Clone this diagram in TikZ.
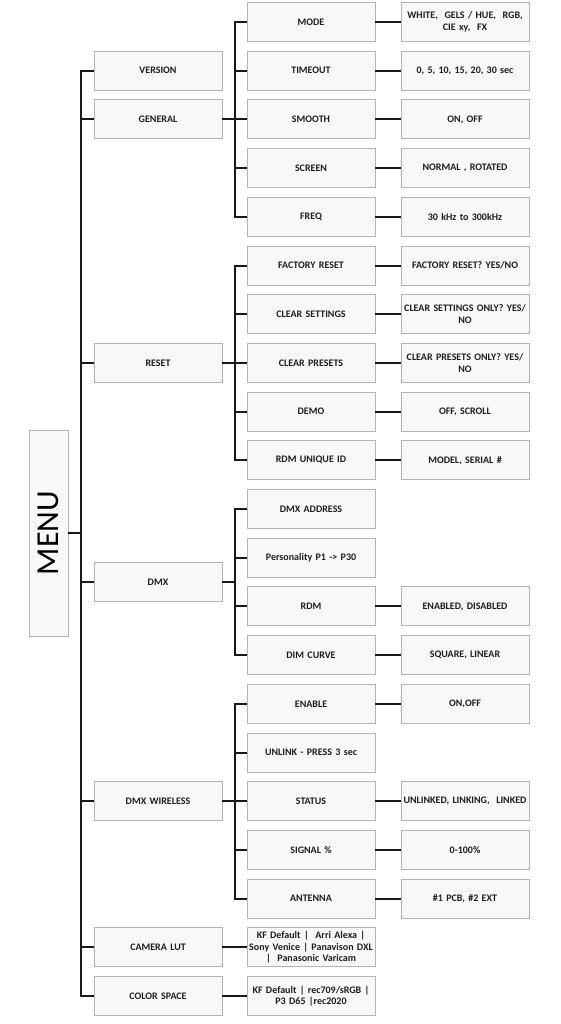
\documentclass[tikz,border=0pt]{standalone}
\usepackage{fontspec}
\setmainfont{Carlito}
\usepackage{xcolor}
\usetikzlibrary{positioning,calc}
\definecolor{boxline}{RGB}{180,180,180}
\definecolor{boxfill}{RGB}{248,248,248}
\definecolor{txtdark}{RGB}{30,30,30}
\tikzstyle{item} = [draw=boxline, fill=boxfill, line width=0.9pt, minimum width=128pt, minimum height=39pt, inner sep=0pt, align=center, text width=128pt, font=\bfseries\fontsize{10}{11.5}\selectfont, text=txtdark]
\tikzstyle{conn} = [line width=2pt, draw=black!90]

\begin{document}
\begin{tikzpicture}[x=1pt, y=-1pt]
\useasboundingbox (0,0) rectangle (560,1024);

% Root
\node[draw=boxline, fill=boxfill, line width=0.9pt, rotate=90, minimum width=206pt, minimum height=39pt, inner sep=0, font=\fontsize{32}{32}\selectfont, text=black] (menu) at (48.5,533) {MENU};

% First level
\node[item] (version) at (158,70.7) {VERSION};
\node[item] (general) at (158,119.4) {GENERAL};
\node[item] (reset) at (158,362.9) {RESET};
\node[item] (dmx) at (158,582.05) {DMX};
\node[item] (wireless) at (158,801.2) {DMX WIRELESS};
\node[item] (lut) at (158,947.3) {CAMERA LUT};
\node[item] (space) at (158,996) {COLOR SPACE};

% General
\node[item] (mode) at (311,22) {MODE};
\node[item] (timeout) at (311,70.7) {TIMEOUT};
\node[item] (smooth) at (311,119.4) {SMOOTH};
\node[item] (screen) at (311,168.1) {SCREEN};
\node[item] (freq) at (311,216.8) {FREQ};

% Reset
\node[item] (factory) at (311,265.5) {FACTORY RESET};
\node[item] (clrset) at (311,314.2) {CLEAR SETTINGS};
\node[item] (clrpre) at (311,362.9) {CLEAR PRESETS};
\node[item] (demo) at (311,411.6) {DEMO};
\node[item] (uid) at (311,460.3) {RDM UNIQUE ID};

% DMX
\node[item] (address) at (311,509) {DMX ADDRESS};
\node[item] (person) at (311,557.7) {Personality P1 -> P30};
\node[item] (rdm) at (311,606.4) {RDM};
\node[item] (dim) at (311,655.1) {DIM CURVE};

% DMX wireless
\node[item] (enable) at (311,703.8) {ENABLE};
\node[item] (unlink) at (311,752.5) {UNLINK - PRESS 3 sec};
\node[item] (status) at (311,801.2) {STATUS};
\node[item] (signal) at (311,849.9) {SIGNAL \%};
\node[item] (antenna) at (311,898.6) {ANTENNA};

% Lut / color space values
\node[item] (lutval) at (311,947.3) {KF Default |\ \ Arri Alexa |\\Sony Venice | Panavison DXL\\|\ \ Panasonic Varicam};
\node[item] (spaceval) at (311,996) {KF Default | rec709/sRGB |\\P3 D65 |rec2020};

% Values
\node[item] (modeval) at (465,22) {WHITE,\ \ GELS / HUE,\ \ RGB,\\CIE xy,\ \ FX};
\node[item] (timeoutval) at (465,70.7) {0, 5, 10, 15, 20, 30 sec};
\node[item] (smoothval) at (465,119.4) {ON, OFF};
\node[item] (screenval) at (465,168.1) {NORMAL , ROTATED};
\node[item] (freqval) at (465,216.8) {30 kHz to 300kHz};
\node[item] (factoryval) at (465,265.5) {FACTORY RESET? YES/NO};
\node[item] (clrsetval) at (465,314.2) {CLEAR SETTINGS ONLY? YES/\\NO};
\node[item] (clrpreval) at (465,362.9) {CLEAR PRESETS ONLY? YES/\\NO};
\node[item] (demoval) at (465,411.6) {OFF, SCROLL};
\node[item] (uidval) at (465,460.3) {MODEL, SERIAL \#};
\node[item] (rdmval) at (465,606.4) {ENABLED, DISABLED};
\node[item] (dimval) at (465,655.1) {SQUARE, LINEAR};
\node[item] (enableval) at (465,703.8) {ON,OFF};
\node[item] (statusval) at (465,801.2) {UNLINKED, LINKING,\ \ LINKED};
\node[item] (signalval) at (465,849.9) {0-100\%};
\node[item] (antennaval) at (465,898.6) {\#1 PCB, \#2 EXT};

% Tree connectors
\foreach \c in {version,general,reset,dmx,wireless,lut,space}
  \draw[conn] (menu.south) -- ++(13,0) |- (\c.west);
\foreach \c in {mode,timeout,smooth,screen,freq}
  \draw[conn] (general.east) -- ++(12.5,0) |- (\c.west);
\foreach \c in {factory,clrset,clrpre,demo,uid}
  \draw[conn] (reset.east) -- ++(12.5,0) |- (\c.west);
\foreach \c in {address,person,rdm,dim}
  \draw[conn] (dmx.east) -- ++(12.5,0) |- (\c.west);
\foreach \c in {enable,unlink,status,signal,antenna}
  \draw[conn] (wireless.east) -- ++(12.5,0) |- (\c.west);

% Value connectors
\draw[conn] (lut) -- (lutval);
\draw[conn] (space) -- (spaceval);
\draw[conn] (mode) -- (modeval);
\draw[conn] (timeout) -- (timeoutval);
\draw[conn] (smooth) -- (smoothval);
\draw[conn] (screen) -- (screenval);
\draw[conn] (freq) -- (freqval);
\draw[conn] (factory) -- (factoryval);
\draw[conn] (clrset) -- (clrsetval);
\draw[conn] (clrpre) -- (clrpreval);
\draw[conn] (demo) -- (demoval);
\draw[conn] (uid) -- (uidval);
\draw[conn] (rdm) -- (rdmval);
\draw[conn] (dim) -- (dimval);
\draw[conn] (enable) -- (enableval);
\draw[conn] (status) -- (statusval);
\draw[conn] (signal) -- (signalval);
\draw[conn] (antenna) -- (antennaval);

\end{tikzpicture}
\end{document}
